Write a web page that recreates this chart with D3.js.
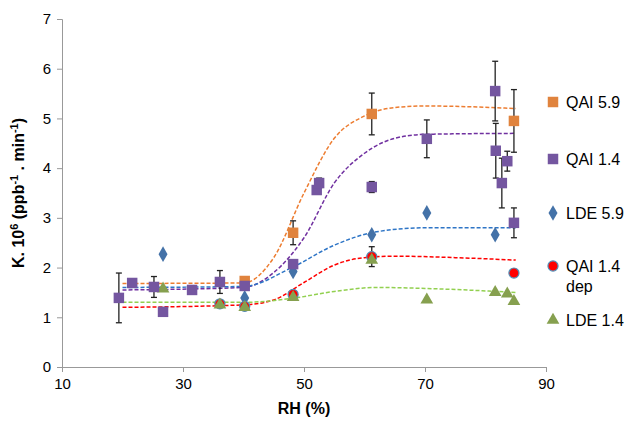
<!DOCTYPE html>
<html><head><meta charset="utf-8">
<script src="https://cdn.jsdelivr.net/npm/d3@7"></script>
<style>body{margin:0;background:#fff;font-family:Arial,"Liberation Sans",sans-serif}</style>
</head><body><svg id="c" width="636" height="429"></svg>
<script>
// [x, y, err]
var qai59 = [[40.2,1.73,0],[48.2,2.70,0.24],[61.2,5.09,0.42],[84.7,4.95,0.63]];
var qai14 = [[19.4,1.39,0.5],[21.6,1.69,0.07],[25.2,1.61,0.21],[26.7,1.11,0],[31.5,1.55,0],[36.1,1.71,0.23],[40.2,1.63,0],[48.2,2.07,0.06],
  [52.1,3.56,0],[52.5,3.70,0.1],[61.2,3.62,0.11],[70.3,4.59,0.38],[81.6,5.55,0.6],[81.7,4.35,0.55],[82.7,3.70,0.5],[83.6,4.14,0.2],[84.7,2.90,0.3]];
var lde59 = [[26.7,2.27],[40.2,1.39],[48.2,1.92],[61.2,2.66],[70.3,3.10],[81.6,2.66]];
var qaidep = [[36.1,1.27,0.05],[40.2,1.22,0],[48.2,1.46,0.06],[61.2,2.22,0.2],[84.7,1.89,0]];
var lde14 = [[26.7,1.57],[36.1,1.25],[40.2,1.20],[48.2,1.40],[61.2,2.15],[70.3,1.35],[81.6,1.50],[83.6,1.47],[84.7,1.32]];
// fitted trend lines
var fitQai59 = [[20,1.68],[40,1.69],[45,2.2],[50,3.5],[55,4.6],[60,5.05],[65,5.22],[70,5.25],[85,5.2]];
var fitQai14 = [[20,1.55],[40,1.6],[45,1.9],[50,2.6],[55,3.7],[60,4.3],[65,4.6],[70,4.68],[85,4.7]];
var fitLde59 = [[20,1.6],[40,1.62],[48,2.0],[55,2.45],[62,2.72],[70,2.8],[85,2.8]];
var fitDep = [[20,1.2],[40,1.25],[45,1.35],[50,1.7],[55,2.05],[60,2.2],[65,2.23],[75,2.2],[85,2.15]];
var fitLde14 = [[20,1.3],[40,1.3],[48,1.38],[55,1.52],[62,1.6],[70,1.58],[85,1.5]];
var xTicks = [10,30,50,70,90];
var yTicks = [0,1,2,3,4,5,6,7];

var svg = d3.select("#c");
var x = d3.scaleLinear().domain([10,90]).range([62,546]);
var y = d3.scaleLinear().domain([0,7]).range([367,19]);

function styleAxis(g){g.selectAll("path,line").attr("stroke","#999");g.selectAll("text").attr("font-size",15).attr("fill","#000").attr("font-family","Arial");}
svg.append("g").attr("transform","translate(0,367)")
  .call(d3.axisBottom(x).tickValues(xTicks).tickFormat(d3.format("d")).tickSize(5).tickPadding(6)).call(styleAxis);
svg.append("g").attr("transform","translate(62,0)")
  .call(d3.axisLeft(y).tickValues(yTicks).tickFormat(d3.format("d")).tickSize(5).tickPadding(6)).call(styleAxis);

var line = d3.line().x(function(d){return x(d[0]);}).y(function(d){return y(d[1]);}).curve(d3.curveMonotoneX);
[[fitQai59,"#ed7d31"],[fitQai14,"#7030a0"],[fitLde59,"#2e75c6"],[fitDep,"#ff0000"],[fitLde14,"#92d050"]].forEach(function(s){
  svg.append("path").datum(s[0]).attr("d",line).attr("fill","none").attr("stroke",s[1]).attr("stroke-width",1.5).attr("stroke-dasharray","4,2");
});

function errs(data){
  data.filter(function(d){return d[2];}).forEach(function(d){
    var g = svg.append("g").attr("stroke","#222").attr("stroke-width",1.3);
    g.append("line").attr("x1",x(d[0])).attr("x2",x(d[0])).attr("y1",y(d[1]-d[2])).attr("y2",y(d[1]+d[2]));
    [d[1]-d[2],d[1]+d[2]].forEach(function(v){g.append("line").attr("x1",x(d[0])-3).attr("x2",x(d[0])+3).attr("y1",y(v)).attr("y2",y(v));});
  });
}
errs(qai59); errs(qai14); errs(qaidep);

var sym = {
  sq: d3.symbol().type(d3.symbolSquare).size(110),
  di: d3.symbol().type(d3.symbolDiamond).size(70),
  ci: d3.symbol().type(d3.symbolCircle).size(80),
  tr: d3.symbol().type(d3.symbolTriangle).size(70)
};
function pts(data, s, fill, stroke){
  svg.append("g").selectAll("path").data(data).join("path")
    .attr("transform",function(d){return "translate("+x(d[0])+","+y(d[1])+")";})
    .attr("d",s).attr("fill",fill).attr("stroke",stroke||"none").attr("stroke-width",1.2);
}
pts(qai59, sym.sq, "#e0833d");
pts(lde59, sym.di, "#4472a8");
pts(qaidep, sym.ci, "#ff0000", "#4f8fb8");
pts(lde14, sym.tr, "#86a04f");
pts(qai14, sym.sq, "#7456a0");

var legend = [["QAI 5.9",sym.sq,"#e0833d",null,102],["QAI 1.4",sym.sq,"#7456a0",null,159],["LDE 5.9",sym.di,"#4472a8",null,213],
  ["QAI 1.4",sym.ci,"#ff0000","#4f8fb8",266],["LDE 1.4",sym.tr,"#86a04f",null,320]];
legend.forEach(function(l){
  svg.append("path").attr("d",l[1]).attr("transform","translate(553,"+l[4]+")").attr("fill",l[2]).attr("stroke",l[3]||"none").attr("stroke-width",1.2);
  svg.append("text").attr("x",566).attr("y",l[4]+6).attr("font-size",16).text(l[0]);
});
svg.append("text").attr("x",566).attr("y",292).attr("font-size",16).text("dep");

svg.append("text").attr("x",304).attr("y",414).attr("text-anchor","middle").attr("font-size",16).attr("font-weight","bold").text("RH (%)");
var yl = svg.append("text").attr("transform","translate(24,193) rotate(-90)").attr("text-anchor","middle").attr("font-size",16).attr("font-weight","bold");
yl.append("tspan").text("K. 10");
yl.append("tspan").attr("font-size",11).attr("dy",-6).text("6");
yl.append("tspan").attr("dy",6).text(" (ppb");
yl.append("tspan").attr("font-size",11).attr("dy",-6).text("-1");
yl.append("tspan").attr("dy",6).text(" . min");
yl.append("tspan").attr("font-size",11).attr("dy",-6).text("-1");
yl.append("tspan").attr("dy",6).text(")");
</script></body></html>
